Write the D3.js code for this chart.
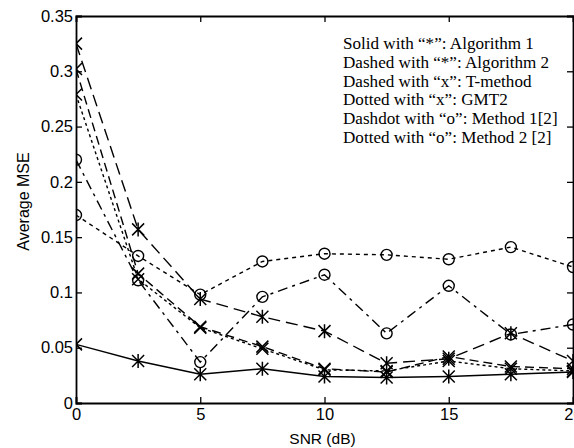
<!DOCTYPE html>
<html>
<head>
<meta charset="utf-8">
<script src="https://cdnjs.cloudflare.com/ajax/libs/d3/7.8.5/d3.min.js"></script>
<style>
  body { margin: 0; background: #fff; }
  svg { display: block; }
</style>
</head>
<body>
<svg id="chart" width="574" height="448"></svg>
<script>
  // x values (SNR in dB)
  const snr = [0, 2.5, 5, 7.5, 10, 12.5, 15, 17.5, 20];

  const algorithm1 = [0.053, 0.038, 0.026, 0.031, 0.024, 0.023, 0.024, 0.026, 0.028];
  const algorithm2 = [0.325, 0.157, 0.094, 0.078, 0.065, 0.036, 0.040, 0.063, 0.038];
  const tMethod    = [0.302, 0.117, 0.069, 0.051, 0.031, 0.028, 0.042, 0.033, 0.031];
  const gmt2       = [0.279, 0.112, 0.068, 0.049, 0.030, 0.029, 0.038, 0.031, 0.029];
  const method1    = [0.220, 0.111, 0.037, 0.096, 0.116, 0.063, 0.106, 0.062, 0.071];
  const method2    = [0.170, 0.133, 0.098, 0.128, 0.135, 0.134, 0.130, 0.141, 0.123];

  const xTicks = [0, 5, 10, 15, 20];
  const yTicks = [0, 0.05, 0.1, 0.15, 0.2, 0.25, 0.3, 0.35];

  const legendLines = [
    "Solid with \u201c*\u201d: Algorithm 1",
    "Dashed with \u201c*\u201d: Algorithm 2",
    "Dashed with \u201cx\u201d: T-method",
    "Dotted with \u201cx\u201d: GMT2",
    "Dashdot with \u201co\u201d: Method 1[2]",
    "Dotted with \u201co\u201d: Method 2 [2]"
  ];

  const series = [
    { values: algorithm1, dash: null,        marker: "star" },
    { values: algorithm2, dash: "12,6",      marker: "star" },
    { values: tMethod,    dash: "9,5",       marker: "x" },
    { values: gmt2,       dash: "3,3",       marker: "x" },
    { values: method1,    dash: "10,5,3,5",  marker: "o" },
    { values: method2,    dash: "4,4",       marker: "o" }
  ];

  const plotLeft = 76, plotRight = 573, plotTop = 16, plotBottom = 403;

  const svg = d3.select("#chart");

  const x = d3.scaleLinear().domain([0, 20]).range([plotLeft, plotRight]);
  const y = d3.scaleLinear().domain([0, 0.35]).range([plotBottom, plotTop]);

  svg.append("defs").append("clipPath").attr("id", "plotclip")
    .append("rect").attr("x", plotLeft).attr("y", plotTop - 8)
    .attr("width", plotRight - plotLeft + 8).attr("height", plotBottom - plotTop + 16);

  // axes, MATLAB style: ticks pointing inward
  const sansFont = "'Liberation Sans', Arial, sans-serif";

  const xAxis = svg.append("g").attr("transform", `translate(0,${plotBottom})`)
    .call(d3.axisBottom(x).tickValues(xTicks).tickSize(-6).tickPadding(4).tickFormat(d3.format("d")));
  const xAxisTop = svg.append("g").attr("transform", `translate(0,${plotTop})`)
    .call(d3.axisTop(x).tickValues(xTicks).tickSize(-6).tickFormat(""));
  const yAxis = svg.append("g").attr("transform", `translate(${plotLeft},0)`)
    .call(d3.axisLeft(y).tickValues(yTicks).tickSize(-6).tickPadding(3).tickFormat(d => d === 0 ? "0" : String(+d.toFixed(2))));
  const yAxisRight = svg.append("g").attr("transform", `translate(${plotRight},0)`)
    .call(d3.axisRight(y).tickValues(yTicks).tickSize(-6).tickFormat(""));

  [xAxis, xAxisTop, yAxis, yAxisRight].forEach(g => {
    g.select(".domain").attr("stroke", "#000").attr("stroke-width", 1.8);
    g.selectAll(".tick line").attr("stroke", "#000").attr("stroke-width", 1.3);
    g.selectAll("text").attr("fill", "#000").style("font-family", sansFont).style("font-size", "16.5px");
  });
  xAxis.selectAll("text").attr("dy", "0.8em");

  svg.append("text")
    .attr("x", (plotLeft + plotRight) / 2 - 2).attr("y", 444)
    .attr("text-anchor", "middle")
    .style("font-family", sansFont).style("font-size", "15.5px")
    .text("SNR (dB)");

  svg.append("text")
    .attr("transform", `translate(29,${(plotTop + plotBottom) / 2 - 8}) rotate(-90)`)
    .attr("text-anchor", "middle")
    .style("font-family", sansFont).style("font-size", "16px")
    .text("Average MSE");

  const plot = svg.append("g").attr("clip-path", "url(#plotclip)");

  const line = d3.line().x((d, i) => x(snr[i])).y(d => y(d));

  series.forEach(s => {
    plot.append("path")
      .datum(s.values)
      .attr("d", line)
      .attr("fill", "none")
      .attr("stroke", "#000")
      .attr("stroke-width", 1.4)
      .attr("stroke-dasharray", s.dash);

    const m = plot.append("g").selectAll("g").data(s.values).join("g")
      .attr("transform", (d, i) => `translate(${x(snr[i])},${y(d)})`);
    if (s.marker === "o") {
      m.append("circle").attr("r", 5.5).attr("fill", "none").attr("stroke", "#000").attr("stroke-width", 1.4);
    } else {
      const r = 6;
      const pathX = `M${-r},${-r}L${r},${r}M${-r},${r}L${r},${-r}`;
      const pathPlus = `M0,${-r - 1}L0,${r + 1}`;
      m.append("path")
        .attr("d", s.marker === "star" ? pathX + pathPlus : pathX)
        .attr("stroke", "#000").attr("stroke-width", 1.5).attr("fill", "none");
    }
  });

  // legend text block
  const legend = svg.append("g").selectAll("text").data(legendLines).join("text")
    .attr("x", 343)
    .attr("y", (d, i) => 49 + i * 18.8)
    .style("font-family", "'Liberation Serif', 'Times New Roman', serif")
    .style("font-size", "17px")
    .attr("fill", "#000")
    .text(d => d);

  // scale the block so the first line spans the width seen in the chart
  const firstWidth = legend.node().getComputedTextLength();
  const fitSize = 17 * 191 / firstWidth;
  legend.style("font-size", fitSize + "px");
</script>
</body>
</html>
